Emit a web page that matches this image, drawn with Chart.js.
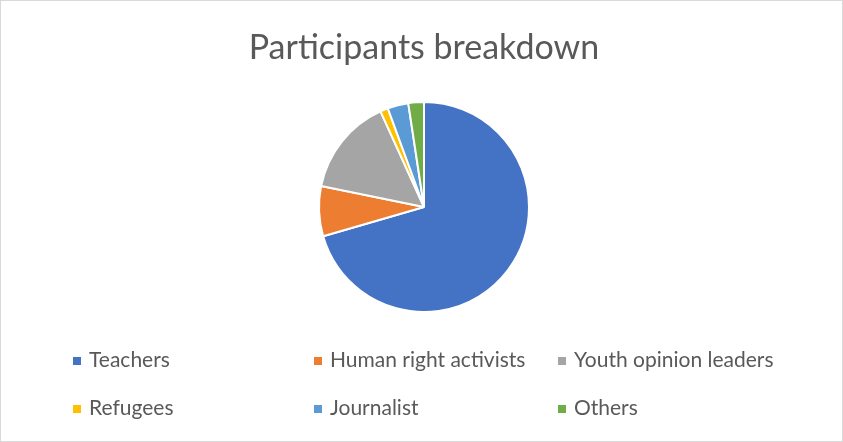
<!DOCTYPE html>
<html>
<head>
<meta charset="utf-8">
<script src="https://cdn.jsdelivr.net/npm/chart.js@4"></script>
<style>
  html, body { margin: 0; padding: 0; background: #fff; }
  #wrap { position: relative; width: 843px; height: 442px; box-sizing: border-box; border: 1px solid #d9d9d9; }
  #grafico { position: absolute; left: 0; top: 0; }
  #legenda { position: absolute; left: 0; top: 0; width: 843px; height: 442px; pointer-events: none;
             font-family: Lato, "Open Sans", sans-serif; font-size: 21px; color: #595959; }
  .item { position: absolute; white-space: nowrap; line-height: 24px; }
  .item span.box { display: inline-block; width: 8px; height: 8px; margin-right: 8px; vertical-align: middle; position: relative; top: -1px; }
</style>
</head>
<body>
<div id="wrap">
  <canvas id="grafico" width="843" height="442"></canvas>
  <div id="legenda"></div>
</div>
<script>
// dados do gráfico
const categorias = ["Teachers", "Human right activists", "Youth opinion leaders", "Refugees", "Journalist", "Others"];
const valores = [70.5, 7.7, 15.0, 1.2, 3.2, 2.4];
const cores = ["#4472C4", "#ED7D31", "#A5A5A5", "#FFC000", "#5B9BD5", "#70AD47"];

// posição das colunas / linhas da legenda
const legendaX = [72, 313, 557];
const legendaY = [346, 394];

const ctx = document.getElementById("grafico").getContext("2d");
new Chart(ctx, {
  type: "pie",
  data: {
    labels: categorias,
    datasets: [{
      data: valores,
      backgroundColor: cores,
      borderColor: "#ffffff",
      borderWidth: 2
    }]
  },
  options: {
    responsive: false,
    animation: false,
    layout: { padding: { top: 26.6, bottom: 130, left: 3, right: 0 } },
    plugins: {
      legend: { display: false },
      tooltip: { enabled: false },
      title: {
        display: true,
        text: "Participants breakdown",
        color: "#595959",
        font: { family: "Lato", size: 34, weight: "normal", lineHeight: 1.2 },
        padding: { top: 0, bottom: 32.6 }
      }
    }
  }
});

// legenda em HTML, 3 colunas
const legenda = document.getElementById("legenda");
categorias.forEach((nome, i) => {
  const div = document.createElement("div");
  div.className = "item";
  div.style.left = legendaX[i % 3] + "px";
  div.style.top = legendaY[Math.floor(i / 3)] + "px";
  div.innerHTML = `<span class="box" style="background:${cores[i]}"></span>${nome}`;
  legenda.appendChild(div);
});
</script>
</body>
</html>
